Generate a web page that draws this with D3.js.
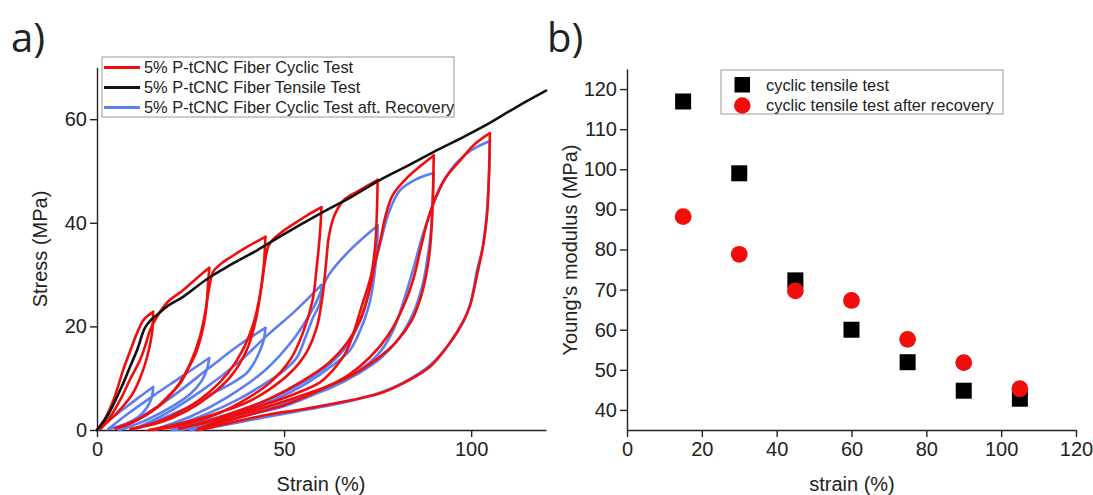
<!DOCTYPE html>
<html lang="en">
<head>
    <meta charset="utf-8">
    <title>Cyclic tensile test</title>
    <style>
        body { margin: 0; background-color: #fff; }
        svg { display: block; }
        text { font-family: 'Liberation Sans', Arial, sans-serif; fill: #222; }
        .tick text { font-size: 20px; }
        .tick line, .domain { stroke: #222; stroke-width: 1.4; }
        .panel { font-family: 'Open Sans', sans-serif; font-size: 40px; }
        .loop { fill: none; stroke-width: 2.6; stroke-linejoin: round; stroke-linecap: round; }
    </style>
    <script src="https://d3js.org/d3.v7.min.js" charset="utf-8"></script>
</head>
<body>
    <svg id="fig" width="1093" height="495"></svg>

    <script type="text/javascript">
    // a) stress-strain loops, [strain %, stress MPa]
    var cyclicLoad = [
        [[0,0],[2,2],[4.5,6],[7,11.6],[9,15.5],[10.7,18.7],[12.5,21.3],[15,22.8]],
        [[1,0.3],[3.5,2.5],[6.2,5.8],[9,10],[11.5,13.5],[13,16.5],[14.2,19.3],[16.3,22.2],[19,24.8],[23,27],[26.5,29.2],[30,31.3]],
        [[5,0.3],[9,1.3],[13,2.8],[18,5.5],[22,9],[25,13],[27.5,18],[29,23],[30,27.5],[31,30.5],[33,32],[36,33.5],[40,35.3],[45,37.3]],
        [[9,0.2],[16,1.5],[24,4.2],[30,7.3],[35,11],[39,15.5],[42,21],[43.8,27],[44.8,32],[46,35.8],[49,38],[53,40],[56.5,41.6],[60,43]],
        [[14,0],[22,1.2],[32,3.2],[40,5.3],[46,7.8],[52,11.3],[56,15],[58.8,20],[60.3,26],[61.2,32],[62,37.5],[63.5,41.5],[66,44.4],[70,46.2],[75,48.3]],
        [[22,0.3],[30,1.8],[38,3.7],[46,6],[55,9.5],[62,13],[67,17],[70.5,21.5],[72.8,27],[74.2,32],[75.7,36.5],[77,41],[79,45.3],[83,48.8],[86.5,51],[90,53]],
        [[27,0.2],[34,1.6],[42,3.2],[50,4.8],[59.6,7.7],[67,10.5],[73,14.1],[78,18.5],[81.8,23.7],[84.5,29],[86.4,34.7],[88,39.5],[90,44],[93,48.5],[97,52],[101,55.2],[105,57.3]]
    ];
    var cyclicUnload = [
        [[15,22.8],[14.7,18.7],[13.4,14.1],[11.5,10],[9.6,7.1],[6.5,4.2],[3.5,2],[1,0.3]],
        [[30,31.3],[29.7,28.4],[28.9,21.8],[26.7,15.4],[24.5,12],[22.2,9],[19,6.5],[16,4.4],[12,2.5],[8.8,1.4],[5,0.3]],
        [[45,37.3],[44.6,32],[43.6,26],[42.2,20.5],[40,15.4],[35.6,10.2],[30,6.5],[24,3.7],[17,1.5],[9,0.2]],
        [[60,43],[59.6,38],[58.8,32],[57.6,25],[55,18.7],[51.6,13.5],[46,9],[38,5.2],[30,2.5],[21,0.7],[14,0]],
        [[75,48.3],[74.8,42],[74.4,36],[73.3,30],[71,24.5],[66.8,15.4],[63,11.5],[59.6,9.2],[53,7],[46,5.2],[38,3.3],[30,1.6],[22,0.3]],
        [[90,53],[89.8,46],[89.5,40],[89,35],[88,30],[86.5,25.5],[84,21],[80,17],[75,13.8],[68,10.5],[60,8],[52,6],[44,4.2],[36,2.5],[30,1],[27,0.2]],
        [[105,57.3],[104.8,50],[104.3,42],[103.3,36],[101.6,30],[99.7,24],[97.9,21],[94,16.5],[89,12.2],[81.8,9],[75.7,7.1],[64,5.2],[55,4],[46,3],[38,1.8],[31,0.6],[27,0]]
    ];
    var recoveryLoad = [
        [[0,0],[3,1.8],[7,4],[11,6.2],[15,8.3]],
        [[3,0.2],[8,3],[15,6.6],[22,10],[30,13.9]],
        [[6,0],[12,2.6],[20,6.4],[30,12],[38,16.4],[45,19.7]],
        [[10,0.2],[18,3],[28,7.6],[38,13.2],[46,18.6],[53,23],[60,28]],
        [[15,0],[25,2.6],[35,6.4],[45,11.6],[53,18],[58,23.8],[62,30],[68,35],[75,39.5]],
        [[20,0],[28,1.6],[36,3.3],[44,5.3],[52,8],[60,11.5],[66,15.5],[70,20.5],[72.5,26],[74,31],[75.7,36],[78,42],[81,46.3],[85,48.3],[90,49.6]],
        [[25,0],[33,1.5],[41,3],[50,4.6],[60,7.5],[68,10.5],[75,14.5],[79,19],[82,25],[84.5,31],[87,37.5],[90,43.8],[93,48.5],[96,51.5],[100,54],[105,55.8]]
    ];
    var recoveryUnload = [
        [[15,8.3],[14.7,6.5],[13.5,4.5],[11,2.5],[7,1],[3,0.2]],
        [[30,13.9],[29.5,12],[28,9.5],[25,7],[20,4.5],[14,2.2],[9,0.7],[6,0]],
        [[45,19.7],[44.6,17.5],[43.6,15.4],[42,13],[40,11],[36,9],[32,7.5],[26,5],[20,3],[14,1.2],[10,0.2]],
        [[60,28],[59.6,24.5],[57.8,21.8],[55.5,17.5],[53.5,14.1],[50,11.5],[46,9.5],[38,6],[30,3.3],[22,1.2],[15,0]],
        [[75,39.5],[74.8,34.7],[73,25],[70.5,19.5],[67.6,15.4],[63,12.5],[56,9],[48,6],[40,3.8],[32,1.8],[25,0.3],[20,0]],
        [[90,49.6],[89.7,44],[89.2,38],[88.3,33],[87,28],[84.5,22.5],[81,18],[76,14],[70,11],[62,8],[54,6],[46,4.2],[38,2.5],[30,0.8],[25,0]],
        [[105,55.8],[104.8,50],[104.2,42],[103,35],[101.6,31],[100,25],[98,21],[94,16.5],[89,12.5],[82,9.2],[76,7.3],[64,5],[55,3.8],[46,2.6],[38,1.5],[30,0.4],[27,0]]
    ];
    var tensileCurve = [[0,0],[3,3],[7,9],[9,12.5],[10.7,15.4],[12.8,19.7],[14.5,21.3],[16,22.2],[19,24],[23,25.7],[29.7,29.3],[36,32],[42.8,34.7],[50,37.8],[60,41.9],[68,45],[75.7,48.3],[83,51],[90,53.7],[98,56.6],[105,59.3],[112,62.3],[120,65.5]];

    var legendA = ["5% P-tCNC Fiber Cyclic Test", "5% P-tCNC Fiber Tensile Test", "5% P-tCNC Fiber Cyclic Test aft. Recovery"];
    var colorsA = ["#f20d0d", "#111111", "#5c7ef0"];

    // b) Young's modulus
    var modStrain = [15, 30, 45, 60, 75, 90, 105];
    var modCyclic = [116.9, 99, 72.3, 60, 51.9, 44.8, 42.8];
    var modRecovery = [88.2, 78.8, 69.7, 67.3, 57.6, 51.8, 45.3];
    var legendB = ["cyclic tensile test", "cyclic tensile test after recovery"];

    var xTicksA = [0, 50, 100], xMinorA = [25, 75];
    var yTicksA = [0, 20, 40, 60], yMinorA = [10, 30, 50, 70];
    var xTicksB = [0, 20, 40, 60, 80, 100, 120], xMinorB = [10, 30, 50, 70, 90, 110];
    var yTicksB = [40, 50, 60, 70, 80, 90, 100, 110, 120], yMinorB = [45, 55, 65, 75, 85, 95, 105, 115, 125];

    var svg = d3.select("#fig");
    svg.append("rect").attr("width", 1093).attr("height", 495).attr("fill", "#fff");

    // ---------- panel a ----------
    var xA = d3.scaleLinear().domain([0, 120]).range([97, 546]);
    var yA = d3.scaleLinear().domain([0, 70]).range([430, 67.4]);

    function axes(xs, ys, xt, xm, yt, ym) {
        var gx = svg.append("g").attr("transform", "translate(0," + ys.range()[0] + ")");
        gx.call(d3.axisBottom(xs).tickValues(xm).tickSize(4).tickSizeOuter(0).tickFormat(""));
        gx.call(d3.axisBottom(xs).tickValues(xt).tickSize(7).tickSizeOuter(0).tickPadding(5));
        var gy = svg.append("g").attr("transform", "translate(" + xs.range()[0] + ",0)");
        gy.call(d3.axisLeft(ys).tickValues(ym).tickSize(4).tickSizeOuter(0).tickFormat(""));
        gy.call(d3.axisLeft(ys).tickValues(yt).tickSize(7).tickSizeOuter(0).tickPadding(3));
        svg.selectAll(".tick line").attr("stroke", "#222");
    }
    axes(xA, yA, xTicksA, xMinorA, yTicksA, yMinorA);

    var lineA = d3.line()
        .x(function (d) { return xA(d[0]); })
        .y(function (d) { return yA(d[1]); })
        .curve(d3.curveCatmullRom.alpha(0.5));

    var plotA = svg.append("g");
    recoveryLoad.concat(recoveryUnload).forEach(function (p) {
        plotA.append("path").attr("class", "loop").attr("stroke", colorsA[2]).attr("d", lineA(p));
    });
    cyclicLoad.concat(cyclicUnload).forEach(function (p) {
        plotA.append("path").attr("class", "loop").attr("stroke", colorsA[0]).attr("d", lineA(p));
    });
    plotA.append("path").attr("class", "loop").attr("stroke", colorsA[1])
        .attr("stroke-width", 3).attr("d", lineA(tensileCurve));

    var legA = svg.append("g");
    legA.append("rect").attr("x", 102).attr("y", 57).attr("width", 352).attr("height", 60)
        .attr("fill", "#fff").attr("stroke", "#999").attr("stroke-width", 1);
    legendA.forEach(function (t, i) {
        var yy = 67.5 + i * 20;
        legA.append("line").attr("x1", 104).attr("x2", 140).attr("y1", yy).attr("y2", yy)
            .attr("stroke", colorsA[i]).attr("stroke-width", 3);
        legA.append("text").attr("x", 144).attr("y", yy + 5.5).attr("font-size", 16.4).text(t);
    });

    svg.append("text").attr("x", 321).attr("y", 491).attr("text-anchor", "middle")
        .attr("font-size", 20).text("Strain (%)");
    svg.append("text").attr("transform", "translate(47,249) rotate(-90)").attr("text-anchor", "middle")
        .attr("font-size", 20).text("Stress (MPa)");
    svg.append("text").attr("class", "panel").attr("x", 11).attr("y", 52).text("a)");

    // ---------- panel b ----------
    var xB = d3.scaleLinear().domain([0, 120]).range([627, 1076]);
    var yB = d3.scaleLinear().domain([35, 125]).range([430, 69]);
    axes(xB, yB, xTicksB, xMinorB, yTicksB, yMinorB);

    var plotB = svg.append("g");
    plotB.selectAll("rect.pt").data(modStrain).enter().append("rect")
        .attr("x", function (d) { return xB(d) - 8; })
        .attr("y", function (d, i) { return yB(modCyclic[i]) - 8; })
        .attr("width", 16).attr("height", 16).attr("fill", "#000");
    plotB.selectAll("circle").data(modStrain).enter().append("circle")
        .attr("cx", function (d) { return xB(d); })
        .attr("cy", function (d, i) { return yB(modRecovery[i]); })
        .attr("r", 8.4).attr("fill", "#f20d0d");

    var legB = svg.append("g");
    legB.append("rect").attr("x", 721).attr("y", 70).attr("width", 282).attr("height", 44)
        .attr("fill", "#fff").attr("stroke", "#999").attr("stroke-width", 1);
    legB.append("rect").attr("x", 734.5).attr("y", 77).attr("width", 15.5).attr("height", 15.5).attr("fill", "#000");
    legB.append("circle").attr("cx", 742.3).attr("cy", 105.5).attr("r", 8.3).attr("fill", "#f20d0d");
    legendB.forEach(function (t, i) {
        legB.append("text").attr("x", 766).attr("y", 90.5 + i * 20.5).attr("font-size", 16.4).text(t);
    });

    svg.append("text").attr("x", 852).attr("y", 491).attr("text-anchor", "middle")
        .attr("font-size", 20).text("strain (%)");
    svg.append("text").attr("transform", "translate(577,250) rotate(-90)").attr("text-anchor", "middle")
        .attr("font-size", 20).text("Young's modulus (MPa)");
    svg.append("text").attr("class", "panel").attr("x", 547).attr("y", 52).text("b)");
    </script>
</body>
</html>
